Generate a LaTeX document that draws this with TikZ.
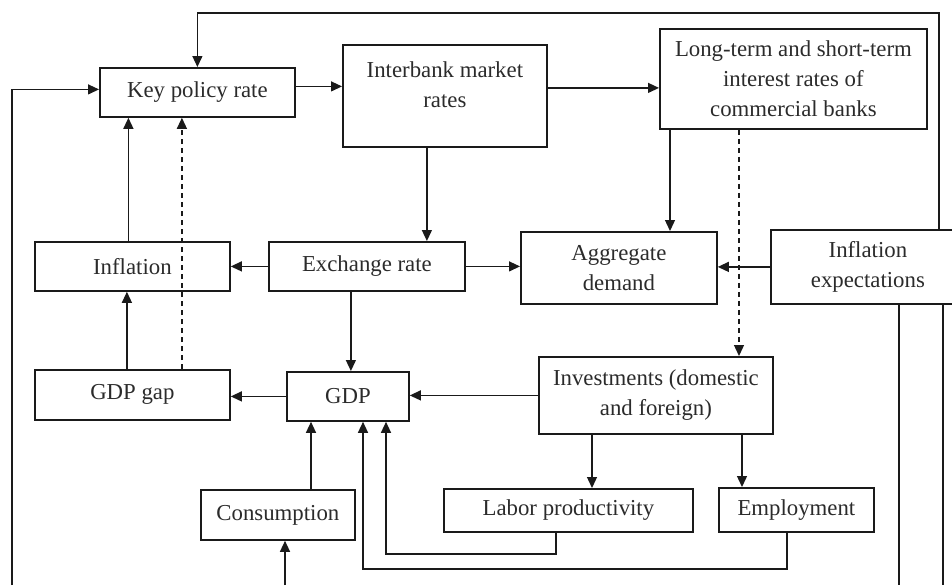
\documentclass[tikz,border=0pt]{standalone}
\usepackage{fontspec}
\setmainfont{Liberation Serif}
\usetikzlibrary{positioning,arrows.meta,calc}
\definecolor{cLine}{HTML}{1A1A1A}
\definecolor{cText}{HTML}{2B2B2B}
\tikzset{
  box/.style={draw=cLine, line width=0.9pt, anchor=north west, align=center,
              font=\fontsize{11.4}{15}\selectfont, text=cText, inner sep=2pt},
  lbl/.style={font=\fontsize{11.4}{15}\selectfont, text=cText, align=center,
              anchor=north, inner sep=0pt},
  flow/.style={-{Triangle[length=5.5pt,width=5pt]}, line width=0.65pt, draw=cLine},
  flowDash/.style={flow, dash pattern=on 2.5pt off 2pt},
  wire/.style={line width=0.65pt, draw=cLine},
}

\begin{document}
\begin{tikzpicture}[x=0.5pt, y=-0.5pt]
\useasboundingbox (0,0) rectangle (952,585);

% ========== TOP ROW ==========
\node[box, minimum width=97.5pt, minimum height=24.5pt] (kpr) at (99,67) {Key policy rate};
\node[box, minimum width=102pt, minimum height=51pt] (ib) at (342,44) {};
\node[lbl] (ibText) at ([yshift=-8.5pt]ib.north) {Interbank market\\rates};
\node[box, minimum width=133.5pt, minimum height=50pt] (lt) at (659,28)
  {Long-term and short-term\\interest rates of\\commercial banks};

% ========== MIDDLE ROW ==========
\node[box, minimum width=97.5pt, minimum height=24.5pt] (infl) at (34,241) {Inflation};
\node[box, minimum width=98pt, minimum height=24.5pt] (exr) at (268,241) {Exchange rate};
\node[box, minimum width=98pt, minimum height=36pt] (ad) at (520,231) {Aggregate\\demand};
\node[box, minimum width=97pt, minimum height=37pt] (ie) at (770,229) {Inflation\\expectations};

% ========== LOWER ROWS ==========
\node[box, minimum width=97.5pt, minimum height=25pt] (gap) at (34,369) {GDP gap};
\node[box, minimum width=61pt, minimum height=24.5pt] (gdp) at (286,371) {GDP};
\node[box, minimum width=117pt, minimum height=38.5pt] (inv) at (538,356)
  {Investments (domestic\\and foreign)};
\node[box, minimum width=77pt, minimum height=25pt] (cons) at (200,489) {Consumption};
\node[box, minimum width=124.5pt, minimum height=21.5pt] (lp) at (443,488) {Labor productivity};
\node[box, minimum width=77.5pt, minimum height=22pt] (emp) at (718,487) {Employment};

% free ends and turns
\coordinate (topR) at (939,13);
\coordinate (leftB) at (12,585);
\coordinate (consIn) at (285,585);
\coordinate (ieOut1) at (899,585);
\coordinate (ieOut2) at (943,585);
\coordinate (lpTurn) at (386,554);
\coordinate (empTurn) at (363,569);

% ========== CONNECTORS ==========
\draw[flow] (ie.north -| topR) -- (topR) -| (kpr.north);
\draw[flow] (leftB) |- ([yshift=1.5pt]kpr.west);
\draw[flow] ([yshift=3pt]kpr.east) -- ([yshift=3pt]kpr.east -| ib.west);
\draw[flow] ([yshift=-4.5pt]lt.west -| ib.east) -- ([yshift=-4.5pt]lt.west);
\draw[flow] ([xshift=-9pt]ib.south) -- ([xshift=-9pt]ib.south |- exr.north);
\draw[flow] (exr.west) -- (exr.west -| infl.east);
\draw[flow] ([xshift=-2pt]infl.north) -- ([xshift=-2pt]infl.north |- kpr.south);
\draw[flowDash] ([xshift=24.75pt]gap.north) -- ([xshift=24.75pt]gap.north |- kpr.south);
\draw[flow] ([xshift=-2.75pt]gap.north) -- ([xshift=-2.75pt]gap.north |- infl.south);
\draw[flow] ([xshift=1.5pt]gdp.north |- exr.south) -- ([xshift=1.5pt]gdp.north);
\draw[flow] (gdp.west) -- (gdp.west -| gap.east);
\draw[flow] (exr.east) -- (exr.east -| ad.west);
\draw[flow] ([xshift=5.5pt]lt.south west) -- ([xshift=5.5pt]lt.south west |- ad.north);
\draw[flowDash] ([xshift=40pt]lt.south west) -- ([xshift=40pt]lt.south west |- inv.north);
\draw[flow] (ie.west) -- (ie.west -| ad.east);
\draw[wire] (ie.south -| ieOut1) -- (ieOut1);
\draw[wire] (ie.south -| ieOut2) -- (ieOut2);
\draw[flow] (inv.west) -- (inv.west -| gdp.east);
\draw[flow] ([xshift=27pt]inv.south west) -- ([xshift=27pt]inv.south west |- lp.north);
\draw[flow] ([xshift=102pt]inv.south west) -- ([xshift=102pt]inv.south west |- emp.north);
\draw[flow] ([xshift=55.5pt]cons.north west) -- ([xshift=55.5pt]cons.north west |- gdp.south);
\draw[flow] (consIn) -- (consIn |- cons.south);
\draw[flow] ([xshift=-6.25pt]lp.south) |- (lpTurn) -- (lpTurn |- gdp.south);
\draw[flow] ([xshift=-4.75pt]emp.south) |- (empTurn) -- (empTurn |- gdp.south);

\end{tikzpicture}
\end{document}
